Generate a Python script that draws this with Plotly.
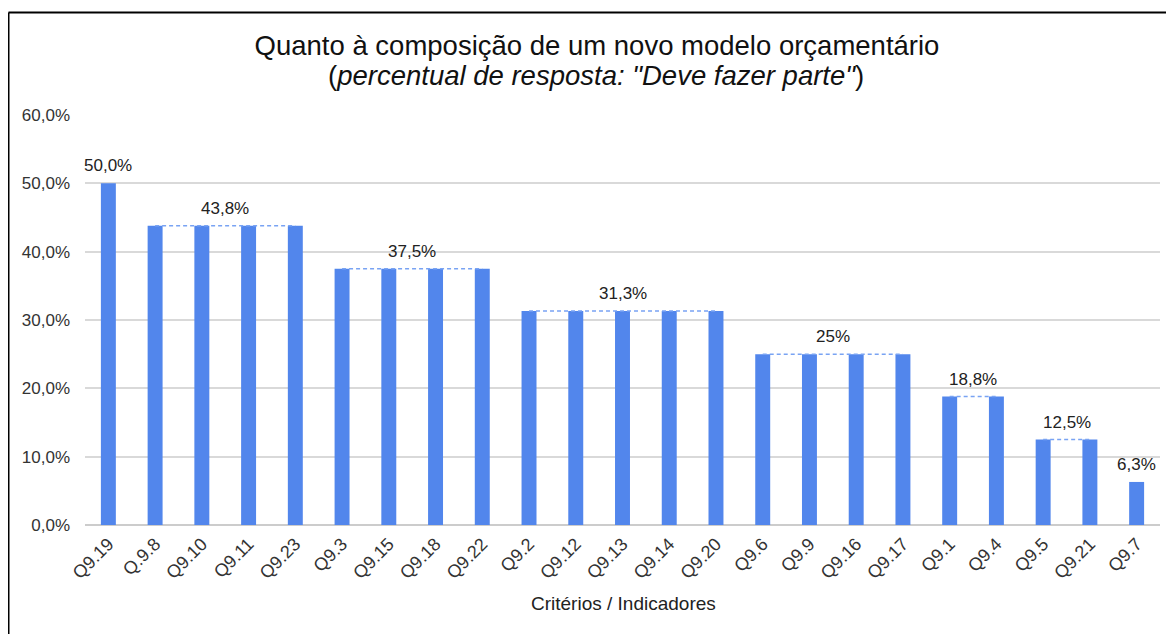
import plotly.graph_objects as go

categories = ["Q9.19", "Q.9.8", "Q9.10", "Q9.11", "Q9.23", "Q9.3", "Q9.15", "Q9.18", "Q9.22",
              "Q9.2", "Q9.12", "Q9.13", "Q9.14", "Q9.20", "Q9.6", "Q9.9", "Q9.16", "Q9.17",
              "Q9.1", "Q9.4", "Q9.5", "Q9.21", "Q9.7"]
values = [50.0, 43.8, 43.8, 43.8, 43.8, 37.5, 37.5, 37.5, 37.5,
          31.3, 31.3, 31.3, 31.3, 31.3, 25.0, 25.0, 25.0, 25.0,
          18.8, 18.8, 12.5, 12.5, 6.3]
group_labels = ["50,0%", "43,8%", "37,5%", "31,3%", "25%", "18,8%", "12,5%", "6,3%"]
y_ticks = [0, 10, 20, 30, 40, 50, 60]
y_ticktext = ["0,0%", "10,0%", "20,0%", "30,0%", "40,0%", "50,0%", "60,0%"]

W, H = 1174, 634
OFF = 8  # page body margin
L, T = 85 - OFF, 115 - OFF
R = W - (1160 - OFF)
B = H - (525 - OFF)
pw, ph = W - L - R, H - T - B

def px_x(px):
    return (px - OFF - L) / pw

def px_y(py):
    return (H - B - (py - OFF)) / ph

idx = list(range(len(categories)))
BAR = "#5286ec"

fig = go.Figure()

groups = []
start = 0
for i in range(1, len(values) + 1):
    if i == len(values) or values[i] != values[start]:
        groups.append((start, i - 1))
        start = i

for (a, b) in groups:
    if b > a:
        fig.add_trace(go.Scatter(x=[idx[a], idx[b]], y=[values[a], values[b]], mode="lines",
                                 line=dict(color="#79a3f3", width=1.5, dash="4px,3px"),
                                 hoverinfo="skip", showlegend=False))

fig.add_trace(go.Bar(x=idx, y=values, marker=dict(color=BAR, line=dict(width=0)),
                     width=0.32, showlegend=False))

for g, (a, b) in enumerate(groups):
    fig.add_annotation(x=(idx[a] + idx[b]) / 2, y=values[a], text=group_labels[g],
                       showarrow=False, yanchor="bottom", yshift=6,
                       font=dict(size=17, color="#222222"))

fig.add_annotation(xref="paper", yref="paper", x=px_x(623), y=px_y(603),
                   text="Critérios / Indicadores", showarrow=False, yanchor="middle",
                   font=dict(size=19, color="#222222"))

fig.add_annotation(xref="paper", yref="paper", x=px_x(596), y=px_y(76),
                   text="(<i>percentual de resposta: \"Deve fazer parte\"</i>)",
                   showarrow=False, yanchor="middle",
                   font=dict(size=27.5, color="#111111"))

# outer border (top and left edges)
fig.add_shape(type="line", xref="paper", yref="paper", x0=px_x(8.5), x1=px_x(1200),
              y0=px_y(12.5), y1=px_y(12.5), line=dict(color="black", width=2))
fig.add_shape(type="line", xref="paper", yref="paper", x0=px_x(8.5), x1=px_x(8.5),
              y0=px_y(12.5), y1=px_y(660), line=dict(color="black", width=2))

fig.update_layout(
    width=W, height=H,
    margin=dict(l=L, r=R, t=T, b=B),
    paper_bgcolor="white", plot_bgcolor="white",
    font=dict(family="Liberation Sans, Arial, sans-serif", color="#222222"),
    title=dict(text="Quanto à composição de um novo modelo orçamentário",
               x=(597 - OFF) / W, xanchor="center", xref="container",
               y=1 - (45 - OFF) / H, yanchor="middle", yref="container",
               font=dict(size=27.5, color="#111111")),
    xaxis=dict(tickmode="array", tickvals=idx, ticktext=categories, tickangle=-45,
               range=[-0.5, len(categories) - 0.5], showgrid=False, zeroline=False,
               ticks="", showline=False, tickfont=dict(size=18, color="#333333"),
               ticklabelstandoff=4),
    yaxis=dict(tickmode="array", tickvals=y_ticks, ticktext=y_ticktext, range=[0, 60],
               showgrid=True, gridcolor="#d9d9d9", gridwidth=1.5, zeroline=True,
               zerolinecolor="#cccccc", zerolinewidth=2,
               ticks="", tickfont=dict(size=17, color="#333333"), ticklabelstandoff=14),
    bargap=0.68,
)

fig.write_html("out.html")
